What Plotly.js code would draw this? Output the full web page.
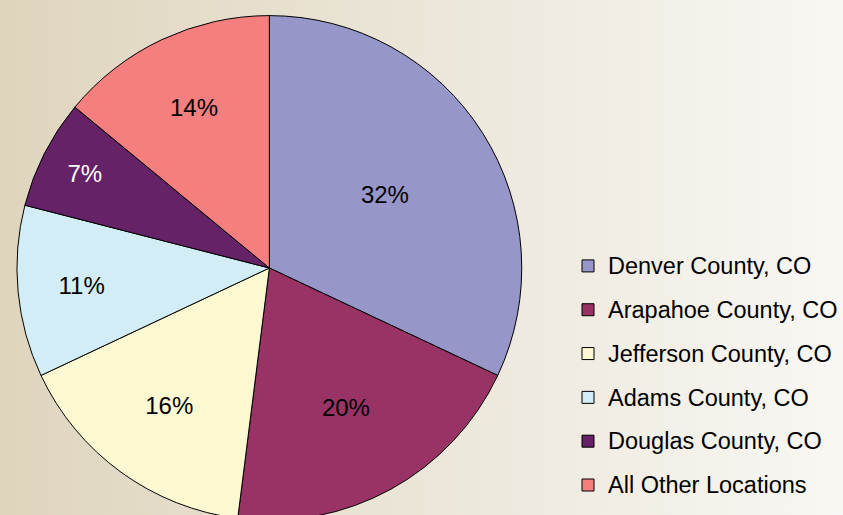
<!DOCTYPE html>
<html>
<head>
<meta charset="utf-8">
<script src="https://cdn.plot.ly/plotly-3.0.1.min.js"></script>
<style>
html, body { margin: 0; padding: 0; width: 843px; height: 515px; overflow: hidden;
  background: linear-gradient(to right, #DFD5BD 0%, #EAE4D6 45%, #F8F7F3 100%); }
#chart { width: 843px; height: 540px; }
</style>
</head>
<body>
<div id="chart"></div>
<script>
var categories = ["Denver County, CO", "Arapahoe County, CO", "Jefferson County, CO", "Adams County, CO", "Douglas County, CO", "All Other Locations"];
var shares = [32, 20, 16, 11, 7, 14];
var sliceColors = ["#9696C8", "#993366", "#FCF8D1", "#D2EDF5", "#662266", "#F57E7E"];
var labelColors = ["#000000", "#000000", "#000000", "#000000", "#FFFFFF", "#000000"];

var legendLabels = categories.map(function (c) {
  return "<br><br><span style='font-size:23.5px'>" + c + "</span><br>";
});

var trace = {
  type: "pie",
  labels: legendLabels,
  values: shares,
  sort: false,
  direction: "clockwise",
  rotation: 0,
  marker: { colors: sliceColors, line: { color: "#000000", width: 1 } },
  textinfo: "percent",
  texttemplate: "%{percent:.0%}",
  textposition: "inside",
  insidetextorientation: "horizontal",
  insidetextfont: { family: "Liberation Sans, Arial, sans-serif", size: 24, color: labelColors },
  hoverinfo: "none",
  domain: { x: [17 / 843, 523 / 843], y: [19 / 540, 525 / 540] }
};

var layout = {
  width: 843, height: 540,
  margin: { l: 0, r: 0, t: 0, b: 0, pad: 0 },
  paper_bgcolor: "rgba(0,0,0,0)",
  plot_bgcolor: "rgba(0,0,0,0)",
  showlegend: true,
  legend: {
    x: 0.6756, y: (540 - 239) / 540, xanchor: "left", yanchor: "top",
    bgcolor: "rgba(0,0,0,0)",
    font: { family: "Liberation Sans, Arial, sans-serif", size: 7.85, color: "#000000" },
    itemwidth: 30,
    traceorder: "normal"
  }
};

Plotly.newPlot("chart", [trace], layout, { displayModeBar: false, staticPlot: true });
</script>
</body>
</html>
